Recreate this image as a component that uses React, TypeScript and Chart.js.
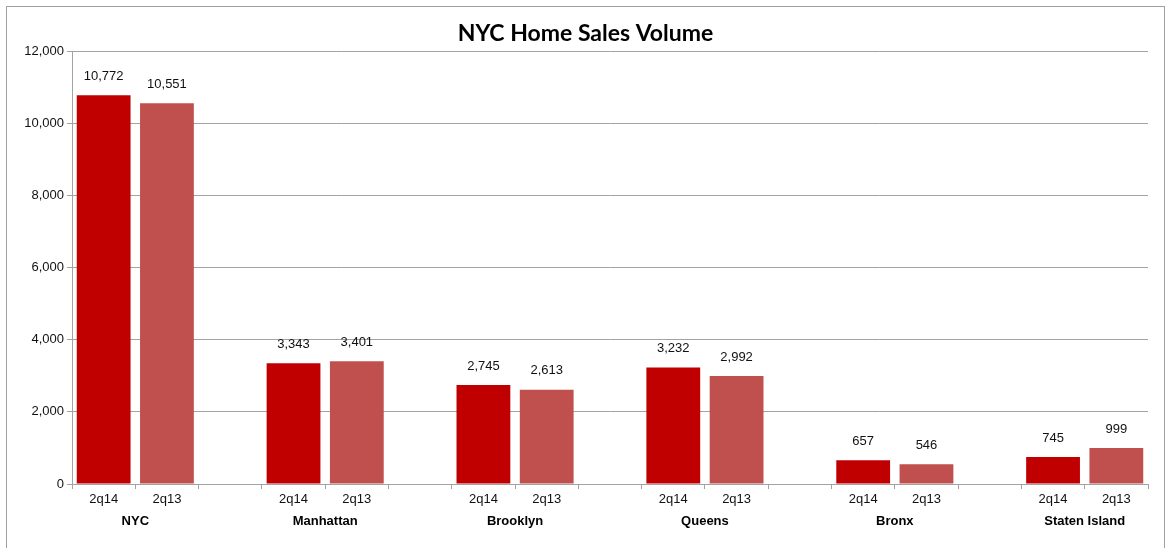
import React, { useEffect, useRef } from "react";
import { Chart, registerables } from "chart.js";

Chart.register(...registerables);

const slotLabels = ["2q14", "2q13", "", "2q14", "2q13", "", "2q14", "2q13", "", "2q14", "2q13", "", "2q14", "2q13", "", "2q14", "2q13"];
const salesValues = [10772, 10551, null, 3343, 3401, null, 2745, 2613, null, 3232, 2992, null, 657, 546, null, 745, 999];
const groupNames = ["NYC", "Manhattan", "Brooklyn", "Queens", "Bronx", "Staten Island"];
const yTicks = [0, 2000, 4000, 6000, 8000, 10000, 12000];

const COLOR_14 = "#C00000";
const COLOR_13 = "#C0504D";
const GRID = "#a3a3a3";
const FONT = "'Liberation Sans', Arial, sans-serif";

const fmt = (v: number) => v.toLocaleString("en-US");

const labelPlugin = {
  id: "customLabels",
  afterDatasetsDraw(chart: any) {
    const { ctx } = chart;
    const meta = chart.getDatasetMeta(0);
    const xScale = chart.scales.x;
    ctx.save();
    ctx.font = `13px ${FONT}`;
    ctx.fillStyle = "#111";
    ctx.textAlign = "center";
    ctx.textBaseline = "middle";
    meta.data.forEach((bar: any, i: number) => {
      const v = salesValues[i];
      if (v == null) return;
      ctx.fillText(fmt(v), bar.x, bar.y - 19);
    });
    ctx.font = `bold 13px ${FONT}`;
    ctx.fillStyle = "#000";
    groupNames.forEach((name, g) => {
      const a = xScale.getPixelForValue(g * 3);
      const b = xScale.getPixelForValue(g * 3 + 1);
      ctx.fillText(name, (a + b) / 2, xScale.bottom - 27);
    });
    ctx.restore();
  },
};

export default function App() {
  const ref = useRef<HTMLCanvasElement | null>(null);
  useEffect(() => {
    if (!ref.current) return;
    const chart = new Chart(ref.current, {
      type: "bar",
      data: {
        labels: slotLabels,
        datasets: [
          {
            data: salesValues as any,
            backgroundColor: slotLabels.map((l) => (l === "2q14" ? COLOR_14 : COLOR_13)),
            categoryPercentage: 1,
            barPercentage: 0.85,
            borderWidth: 0,
          },
        ],
      },
      options: {
        responsive: false,
        animation: false,
        layout: { padding: 0 },
        plugins: {
          legend: { display: false },
          tooltip: { enabled: false },
          title: {
            display: true,
            text: "NYC Home Sales Volume",
            color: "#000",
            font: { family: "Lato, 'Open Sans', sans-serif", size: 23, weight: "bold", lineHeight: 1.2 },
            padding: { top: 19.5, bottom: 3.9 },
          },
        },
        scales: {
          x: {
            type: "category",
            offset: true,
            afterFit: (s: any) => {
              s.height = 64;
            },
            grid: {
              offset: true,
              drawOnChartArea: false,
              drawTicks: true,
              tickLength: 5,
              color: GRID,
            },
            border: { display: true, color: GRID, width: 1 },
            ticks: {
              autoSkip: false,
              maxRotation: 0,
              padding: 3,
              color: "#111",
              font: { family: FONT, size: 13 },
            },
          },
          y: {
            min: 0,
            max: 12000,
            afterFit: (s: any) => {
              s.width = 72;
            },
            afterBuildTicks: (s: any) => {
              s.ticks = yTicks.map((v) => ({ value: v }));
            },
            grid: { color: GRID, tickLength: 5, drawTicks: true },
            border: { display: true, color: GRID, width: 1 },
            ticks: {
              padding: 3,
              color: "#111",
              font: { family: FONT, size: 13 },
              callback: (v: any) => fmt(Number(v)),
            },
          },
          yRight: {
            position: "right",
            min: 0,
            max: 12000,
            display: true,
            afterFit: (s: any) => {
              s.width = 23;
            },
            grid: { display: false, drawOnChartArea: false },
            border: { display: false },
            ticks: { display: false },
          },
        },
      },
      plugins: [labelPlugin],
    });
    return () => chart.destroy();
  }, []);

  return (
    <div style={{ position: "fixed", left: 0, top: 0, width: 1171, height: 548, background: "#fff" }}>
      <div
        style={{
          position: "absolute",
          left: 6,
          top: 6,
          width: 1159,
          height: 600,
          border: "1px solid #a0a0a0",
          boxSizing: "border-box",
        }}
      />
      <canvas ref={ref} width={1171} height={548} style={{ position: "absolute", left: 0, top: 0 }} />
    </div>
  );
}
